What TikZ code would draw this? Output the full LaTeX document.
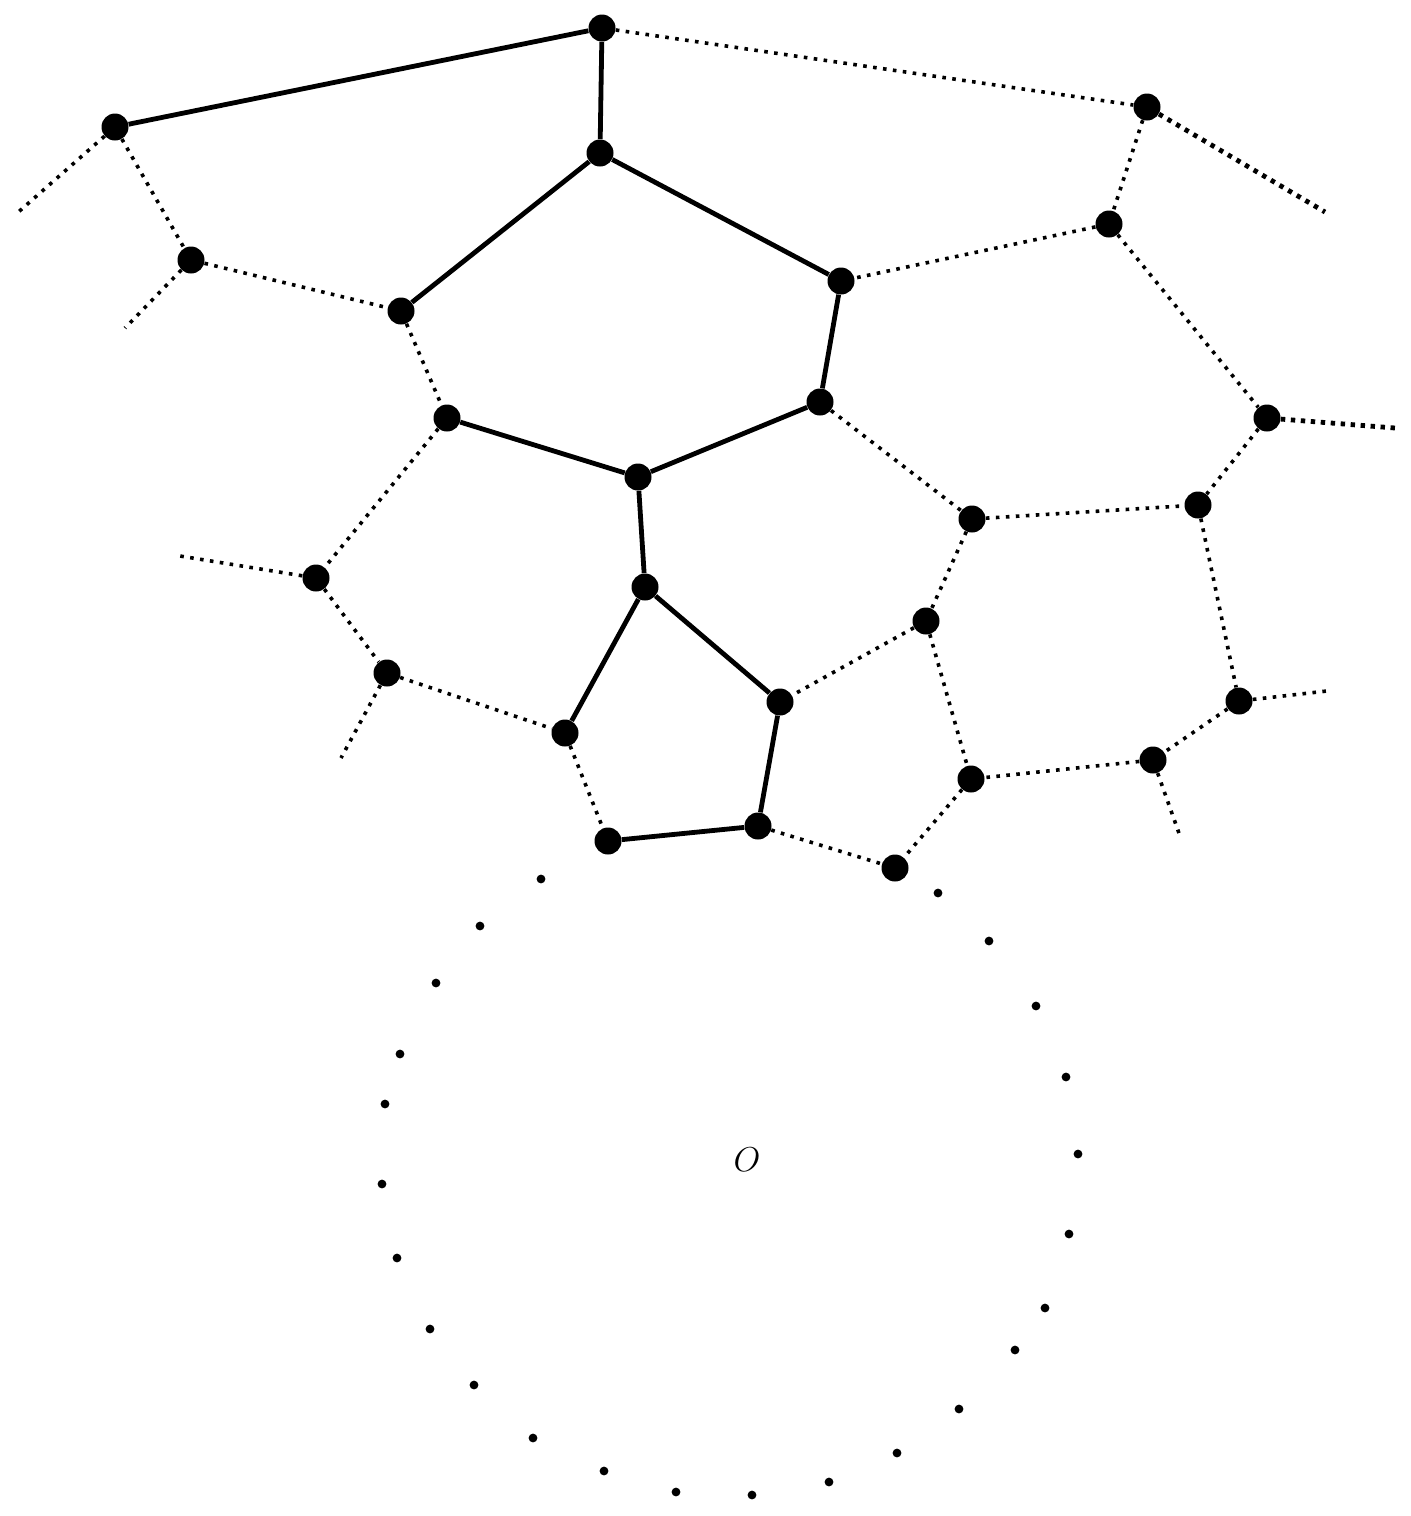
\documentclass[tikz,border=0pt]{standalone}
\begin{document}
\begin{tikzpicture}[x=0.5pt,y=-0.5pt,
  vtx/.style={circle,fill=black,inner sep=0pt,minimum size=13.5pt},
  sdot/.style={circle,fill=black,inner sep=0pt,minimum size=4.4pt},
  solidedge/.style={line width=2.4pt},
  dotedge/.style={line width=1.8pt,dash pattern=on 1.8pt off 3.2pt},
  thickdot/.style={line width=2.4pt,dash pattern=on 2.2pt off 2.8pt}]
\useasboundingbox (0,0) rectangle (1410,1516);
% vertices
\node[vtx] (A1) at (602,28) {};
\node[vtx] (A2) at (115,127) {};
\node[vtx] (A3) at (1147,107) {};
\node[vtx] (A4) at (600,153) {};
\node[vtx] (A5) at (191,260) {};
\node[vtx] (A6) at (1109,224) {};
\node[vtx] (A7) at (841,281) {};
\node[vtx] (A8) at (401,311) {};
\node[vtx] (A9) at (820,402) {};
\node[vtx] (A10) at (447,418) {};
\node[vtx] (A11) at (1267,418) {};
\node[vtx] (A12) at (638,477) {};
\node[vtx] (A13) at (972,519) {};
\node[vtx] (A14) at (1198,505) {};
\node[vtx] (A15) at (316,578) {};
\node[vtx] (A16) at (645,587) {};
\node[vtx] (A17) at (926,621) {};
\node[vtx] (A18) at (387,673) {};
\node[vtx] (A19) at (780,702) {};
\node[vtx] (A20) at (1239,701) {};
\node[vtx] (A21) at (565,733) {};
\node[vtx] (A22) at (1153,760) {};
\node[vtx] (A23) at (971,779) {};
\node[vtx] (A24) at (758,826) {};
\node[vtx] (A25) at (608,841) {};
\node[vtx] (A26) at (895,868) {};
% free ends
\coordinate (E1) at (1325,212);
\coordinate (E2) at (15,215);
\coordinate (E3) at (125,328);
\coordinate (E4) at (1395,428);
\coordinate (E5) at (180,556);
\coordinate (E6) at (341,758);
\coordinate (E7) at (1327,691);
\coordinate (E8) at (1180,836);
% solid edges
\draw[solidedge] (A2) -- (A1);
\draw[solidedge] (A1) -- (A4);
\draw[solidedge] (A4) -- (A8);
\draw[solidedge] (A4) -- (A7);
\draw[solidedge] (A7) -- (A9);
\draw[solidedge] (A9) -- (A12);
\draw[solidedge] (A10) -- (A12);
\draw[solidedge] (A12) -- (A16);
\draw[solidedge] (A16) -- (A21);
\draw[solidedge] (A16) -- (A19);
\draw[solidedge] (A19) -- (A24);
\draw[solidedge] (A24) -- (A25);
% dotted edges
\draw[dotedge] (A1) -- (A3);
\draw[thickdot] (A3) -- (E1);
\draw[dotedge] (A3) -- (A6);
\draw[dotedge] (A2) -- (E2);
\draw[dotedge] (A2) -- (A5);
\draw[dotedge] (A5) -- (E3);
\draw[dotedge] (A5) -- (A8);
\draw[dotedge] (A8) -- (A10);
\draw[dotedge] (A6) -- (A7);
\draw[dotedge] (A6) -- (A11);
\draw[thickdot] (A11) -- (E4);
\draw[dotedge] (A9) -- (A13);
\draw[dotedge] (A11) -- (A14);
\draw[dotedge] (A13) -- (A14);
\draw[dotedge] (A10) -- (A15);
\draw[dotedge] (A15) -- (E5);
\draw[dotedge] (A15) -- (A18);
\draw[dotedge] (A18) -- (E6);
\draw[dotedge] (A18) -- (A21);
\draw[dotedge] (A13) -- (A17);
\draw[dotedge] (A17) -- (A19);
\draw[dotedge] (A17) -- (A23);
\draw[dotedge] (A14) -- (A20);
\draw[dotedge] (A20) -- (E7);
\draw[dotedge] (A20) -- (A22);
\draw[dotedge] (A22) -- (A23);
\draw[dotedge] (A22) -- (E8);
\draw[dotedge] (A23) -- (A26);
\draw[dotedge] (A24) -- (A26);
\draw[dotedge] (A21) -- (A25);
% dotted circle
\foreach \i/\p in {1/{541,879},2/{480,926},3/{436,983},4/{400,1054},5/{385,1104},6/{382,1184},7/{397,1258},8/{430,1329},9/{474,1385},10/{533,1438},11/{604,1471},12/{676,1492},13/{752,1495},14/{829,1482},15/{897,1453},16/{959,1409},17/{1015,1350},18/{1045,1308},19/{1069,1234},20/{1078,1154},21/{1066,1077},22/{1036,1006},23/{989,941},24/{938,893}}
  \node[sdot] (C\i) at (\p) {};
\node (O) at (747,1160) {\fontsize{17}{19}\selectfont $O$};
\end{tikzpicture}
\end{document}
